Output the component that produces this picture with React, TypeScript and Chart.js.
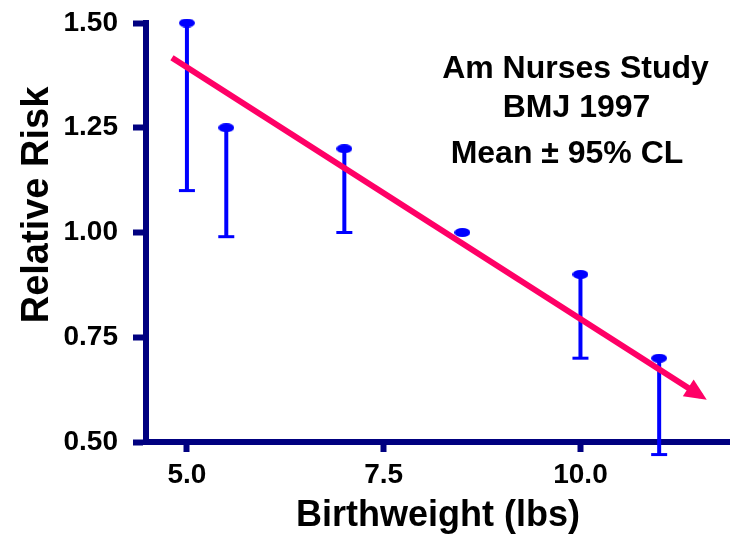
import React, { useEffect, useRef } from "react";
import { Chart, registerables } from "chart.js";

Chart.register(...registerables);

// ---- data ----
const birthweight = [5.0, 5.5, 7.0, 8.5, 10.0, 11.0];
const meanRR = [1.5, 1.25, 1.2, 1.0, 0.9, 0.7];
const lowerCL = [1.1, 0.99, 1.0, 1.0, 0.7, 0.47];
const trendX = [4.81, 11.53];
const trendY = [1.417, 0.61];
const xTickValues = [5.0, 7.5, 10.0];
const yTickValues = [0.5, 0.75, 1.0, 1.25, 1.5];
const noteLines = ["Am Nurses Study", "BMJ 1997", "Mean ± 95% CL"];
const xTitle = "Birthweight (lbs)";
const yTitle = "Relative Risk";

const FONT = "'Liberation Sans', Arial, Helvetica, sans-serif";
const NAVY = "#000080";
const BLUE = "#0000FF";
const PINK = "#FF0066";

function makeEllipse(): HTMLCanvasElement {
  const c = document.createElement("canvas");
  c.width = 16;
  c.height = 9;
  const g = c.getContext("2d")!;
  g.fillStyle = BLUE;
  g.beginPath();
  g.ellipse(8, 4.5, 8, 4.5, 0, 0, Math.PI * 2);
  g.fill();
  return c;
}

const overlay = {
  id: "overlay",
  beforeDatasetsDraw(chart: any) {
    const { ctx } = chart;
    const x = chart.scales.x;
    const y = chart.scales.y;
    ctx.save();
    ctx.strokeStyle = BLUE;
    ctx.lineCap = "butt";
    birthweight.forEach((bw, i) => {
      if (lowerCL[i] >= meanRR[i]) return;
      const px = x.getPixelForValue(bw);
      const pm = y.getPixelForValue(meanRR[i]);
      const pl = y.getPixelForValue(lowerCL[i]);
      ctx.lineWidth = 4;
      ctx.beginPath();
      ctx.moveTo(px, pm);
      ctx.lineTo(px, pl);
      ctx.stroke();
      ctx.lineWidth = 3;
      ctx.beginPath();
      ctx.moveTo(px - 8, pl);
      ctx.lineTo(px + 8, pl);
      ctx.stroke();
    });
    ctx.restore();
  },
  afterDatasetsDraw(chart: any) {
    const { ctx } = chart;
    const x = chart.scales.x;
    const y = chart.scales.y;
    const n = trendX.length;
    const x0 = x.getPixelForValue(trendX[n - 2]);
    const y0 = y.getPixelForValue(trendY[n - 2]);
    const x1 = x.getPixelForValue(trendX[n - 1]);
    const y1 = y.getPixelForValue(trendY[n - 1]);
    const len = Math.hypot(x1 - x0, y1 - y0);
    const ux = (x1 - x0) / len;
    const uy = (y1 - y0) / len;
    const tipX = x1 + ux * 7;
    const tipY = y1 + uy * 7;
    const headLen = 22;
    const half = 10;
    const bx = tipX - ux * headLen;
    const by = tipY - uy * headLen;
    ctx.save();
    ctx.fillStyle = PINK;
    ctx.beginPath();
    ctx.moveTo(tipX, tipY);
    ctx.lineTo(bx - uy * half, by + ux * half);
    ctx.lineTo(bx + uy * half, by - ux * half);
    ctx.closePath();
    ctx.fill();
    ctx.restore();
  },
  afterDraw(chart: any) {
    const { ctx } = chart;
    ctx.save();
    ctx.fillStyle = "#000";
    ctx.font = `bold 32px ${FONT}`;
    ctx.textAlign = "center";
    ctx.textBaseline = "alphabetic";
    ctx.fillText(noteLines[0], 575.5, 78);
    ctx.fillText(noteLines[1], 576.5, 117);
    ctx.fillText(noteLines[2], 567, 163);
    // y axis title
    ctx.translate(38, 205);
    ctx.rotate(-Math.PI / 2);
    ctx.font = `bold 38px ${FONT}`;
    ctx.textBaseline = "middle";
    ctx.fillText(yTitle, 0, 0);
    ctx.restore();
  },
};

export default function App() {
  const ref = useRef<HTMLCanvasElement | null>(null);

  useEffect(() => {
    if (!ref.current) return;
    const ellipse = makeEllipse();
    const chart = new Chart(ref.current, {
      type: "scatter",
      data: {
        datasets: [
          {
            type: "scatter",
            label: "Mean",
            data: birthweight.map((b, i) => ({ x: b, y: meanRR[i] })),
            pointStyle: ellipse as any,
            pointRadius: 8,
            clip: false as any,
            order: 0,
          },
          {
            type: "line",
            label: "Trend",
            data: trendX.map((t, i) => ({ x: t, y: trendY[i] })),
            borderColor: PINK,
            borderWidth: 6,
            pointRadius: 0,
            fill: false,
            clip: false as any,
            borderCapStyle: "butt",
            order: 1,
          } as any,
        ],
      },
      options: {
        animation: false,
        responsive: false,
        events: [],
        layout: { autoPadding: false, padding: { top: 23, right: 0, bottom: 0, left: 0 } },
        plugins: {
          legend: { display: false },
          tooltip: { enabled: false },
        },
        scales: {
          x: {
            type: "linear",
            min: 4.48,
            max: 11.9,
            afterBuildTicks: (s: any) => {
              s.ticks = xTickValues.map((v) => ({ value: v }));
            },
            afterFit: (s: any) => {
              s.height = 98;
              s.paddingLeft = 0;
              s.paddingRight = 0;
            },
            ticks: {
              callback: (v: any) => Number(v).toFixed(1),
              font: { family: FONT, size: 28, weight: "bold" },
              color: "#000",
              padding: 6,
              maxRotation: 0,
              autoSkip: false,
            },
            grid: {
              drawOnChartArea: false,
              drawTicks: true,
              tickLength: 10,
              tickWidth: 6,
              tickColor: NAVY,
              color: NAVY,
            },
            border: { display: true, color: NAVY, width: 6 },
            title: {
              display: true,
              text: xTitle,
              color: "#000",
              font: { family: FONT, size: 36, weight: "bold" },
              padding: { top: 0, bottom: 2 },
            },
          },
          y: {
            type: "linear",
            min: 0.5,
            max: 1.5,
            afterBuildTicks: (s: any) => {
              s.ticks = yTickValues.map((v) => ({ value: v }));
            },
            afterFit: (s: any) => {
              s.width = 146;
              s.paddingTop = 0;
              s.paddingBottom = 0;
            },
            ticks: {
              callback: (v: any) => Number(v).toFixed(2),
              font: { family: FONT, size: 28, weight: "bold" },
              color: "#000",
              padding: 15,
              autoSkip: false,
            },
            grid: {
              drawOnChartArea: false,
              drawTicks: true,
              tickLength: 13,
              tickWidth: 6,
              tickColor: NAVY,
              color: NAVY,
            },
            border: { display: true, color: NAVY, width: 6 },
          },
        },
      } as any,
      plugins: [overlay],
    });
    return () => chart.destroy();
  }, []);

  return (
    <div style={{ position: "fixed", left: 0, top: 0, width: 730, height: 540, background: "#fff" }}>
      <canvas ref={ref} width={730} height={540} style={{ display: "block" }} />
    </div>
  );
}
